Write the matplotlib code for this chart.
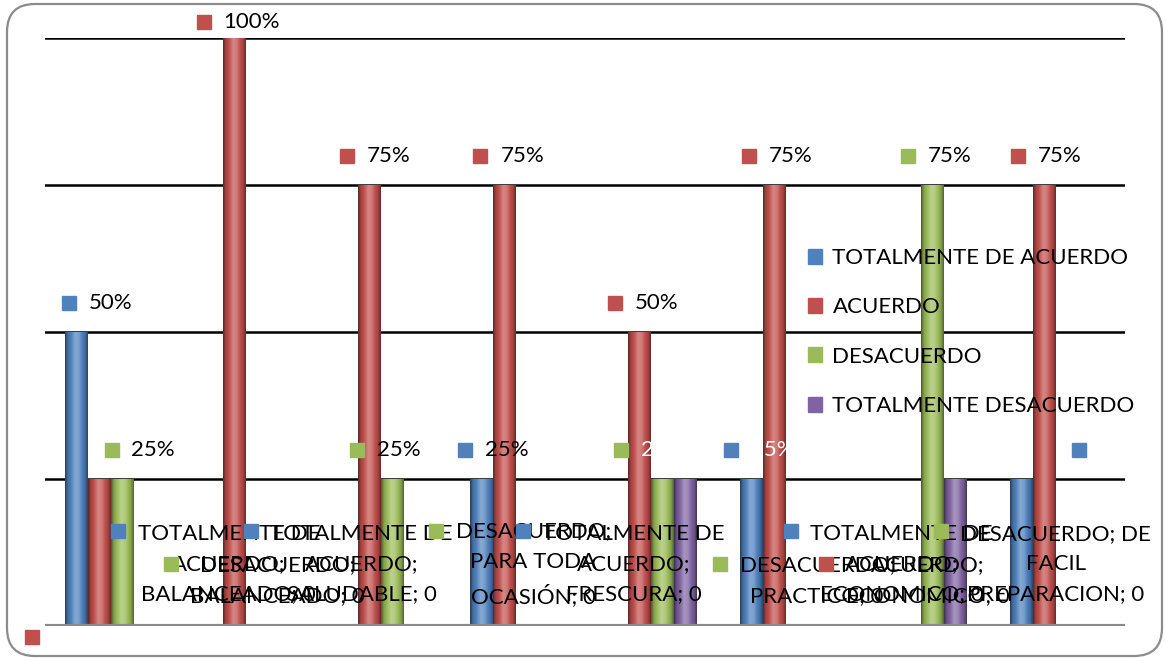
import textwrap

import numpy as np
import matplotlib
matplotlib.use("Agg")
from matplotlib import pyplot as plt
from matplotlib import transforms
from matplotlib.patches import FancyBboxPatch, Patch

plt.rcParams['font.family'] = ['Lato', 'DejaVu Sans']

series = ["TOTALMENTE DE ACUERDO", "ACUERDO", "DESACUERDO", "TOTALMENTE DESACUERDO"]
colors = ["#4F81BD", "#C0504D", "#9BBB59", "#8064A2"]
categories = ["NUTRITIVO", "BALANCEADO", "SALUDABLE", "PARA TODA OCASIÓN",
              "FRESCURA", "PRACTICO", "ECONOMICO", "DE FACIL PREPARACION"]

totalmente_acuerdo = [50, 0, 0, 25, 0, 25, 0, 25]
acuerdo = [25, 100, 75, 75, 50, 75, 0, 75]
desacuerdo = [25, 0, 25, 0, 25, 0, 75, 0]
totalmente_desacuerdo = [0, 0, 0, 0, 25, 0, 25, 0]
values = [totalmente_acuerdo, acuerdo, desacuerdo, totalmente_desacuerdo]

# percentage labels: (series, category, x nudge in px, text colour or None = no text)
pct_labels = [(0, 0, -8, "black"), (2, 0, -11, "black"), (1, 1, -31, "black"),
              (1, 2, -23, "black"), (2, 2, -36, "black"), (0, 3, -16, "black"),
              (1, 3, -24, "black"), (1, 4, -25, "black"), (2, 4, -41, "white"),
              (0, 5, -21, "white"), (1, 5, -26, "black"), (2, 6, -25, "black"),
              (1, 7, -27, "black"), (0, 7, 57, None)]
# zero-value labels: (series, category, x nudge in px from category centre)
zero_labels = [(0, 1, -130), (2, 1, -77), (0, 2, -132), (2, 3, -82), (0, 4, -130),
               (2, 5, -68), (0, 6, -132), (1, 6, -97), (2, 7, -117)]

fs = 16
fig = plt.figure(figsize=(11.65, 6.58), dpi=100)
ax = fig.add_axes([45 / 1165, 32 / 658, 1080 / 1165, 588 / 658])
ax.set_xlim(-0.5, len(categories) - 0.5)
ax.set_ylim(0, 100)
ax.axis("off")


def shifted(dx, dy, base=None):
    base = ax.transData if base is None else base
    return base + transforms.ScaledTranslation(dx / 100, dy / 100, fig.dpi_scale_trans)


for y in [25, 50, 75, 100]:
    ax.axhline(y, color="black", lw=1.8, zorder=1)

w = 23 / 135
x = np.arange(len(categories))
lefts = [x - 0.5 + 20 / 135 + j * w for j in range(4)]

# cylinder shading profile across each bar
t = np.linspace(0, 1, 40)
shade = np.interp(t, [0, 0.12, 0.45, 0.62, 0.88, 1], [0.5, 0.85, 1.2, 1.14, 0.85, 0.55])

for j, vals in enumerate(values):
    base = np.array(matplotlib.colors.to_rgb(colors[j]))
    rgb = np.array([base * s if s <= 1 else base + (1 - base) * (s - 1) * 1.6 for s in shade])
    rgb = np.clip(rgb, 0, 1)[None, :, :]
    bars = ax.bar(lefts[j], vals, width=w, align="edge", color=colors[j], zorder=2)
    for b, v in zip(bars, vals):
        if v > 0:
            ax.imshow(rgb, extent=(b.get_x(), b.get_x() + w, 0, v), aspect="auto",
                      interpolation="bilinear", zorder=2.5)

ax.axhline(0, color="#8a8a8a", lw=3, zorder=3)
ax.set_xlim(-0.5, len(categories) - 0.5)
ax.set_ylim(0, 100)

for s, c, dx, tc in pct_labels:
    v = values[s][c]
    xc = lefts[s][c] + w / 2
    dy = 16 if v == 100 else 29
    ax.plot([xc], [v], marker="s", ms=10, color=colors[s], transform=shifted(dx, dy),
            clip_on=False, zorder=5)
    if tc:
        ax.text(xc, v, f"{v}%", color=tc, fontsize=fs, ha="left", va="center",
                transform=shifted(dx + 20, dy), zorder=4, clip_on=False)

for s, c, dx in zero_labels:
    txt = textwrap.fill(f"{series[s]}; {categories[c]}; {values[s][c]}", 14)
    n = txt.count("\n") + 1
    ax.plot([c], [0], marker="s", ms=10, color=colors[s],
            transform=shifted(dx, 29 + 33 * (n - 1)), clip_on=False, zorder=5)
    ax.text(c, 0, txt, fontsize=fs, ha="left", va="center", multialignment="center",
            linespacing=1.65, transform=shifted(dx + 20, 29 + 16.5 * (n - 1)), zorder=4)

# stray key below the plot floor
ax.plot([0], [0], marker="s", ms=10, color=colors[1],
        transform=shifted(-13, -11, ax.transAxes), clip_on=False, zorder=5)

handles = [Patch(color=c) for c in colors]
ax.legend(handles, series, loc="upper left", bbox_to_anchor=(808 / 1165, 1 - 248 / 658),
          bbox_transform=fig.transFigure, frameon=False, borderpad=0, borderaxespad=0,
          handlelength=0.65, handleheight=0.65, handletextpad=0.45, labelspacing=1.32,
          fontsize=fs)

border = FancyBboxPatch((7, 2), 1155, 652, boxstyle="round,pad=0,rounding_size=28",
                        transform=transforms.IdentityTransform(), facecolor="none",
                        edgecolor="#8c8c8c", lw=1.6)
fig.patches.append(border)

fig.savefig("out.png", dpi=100)
